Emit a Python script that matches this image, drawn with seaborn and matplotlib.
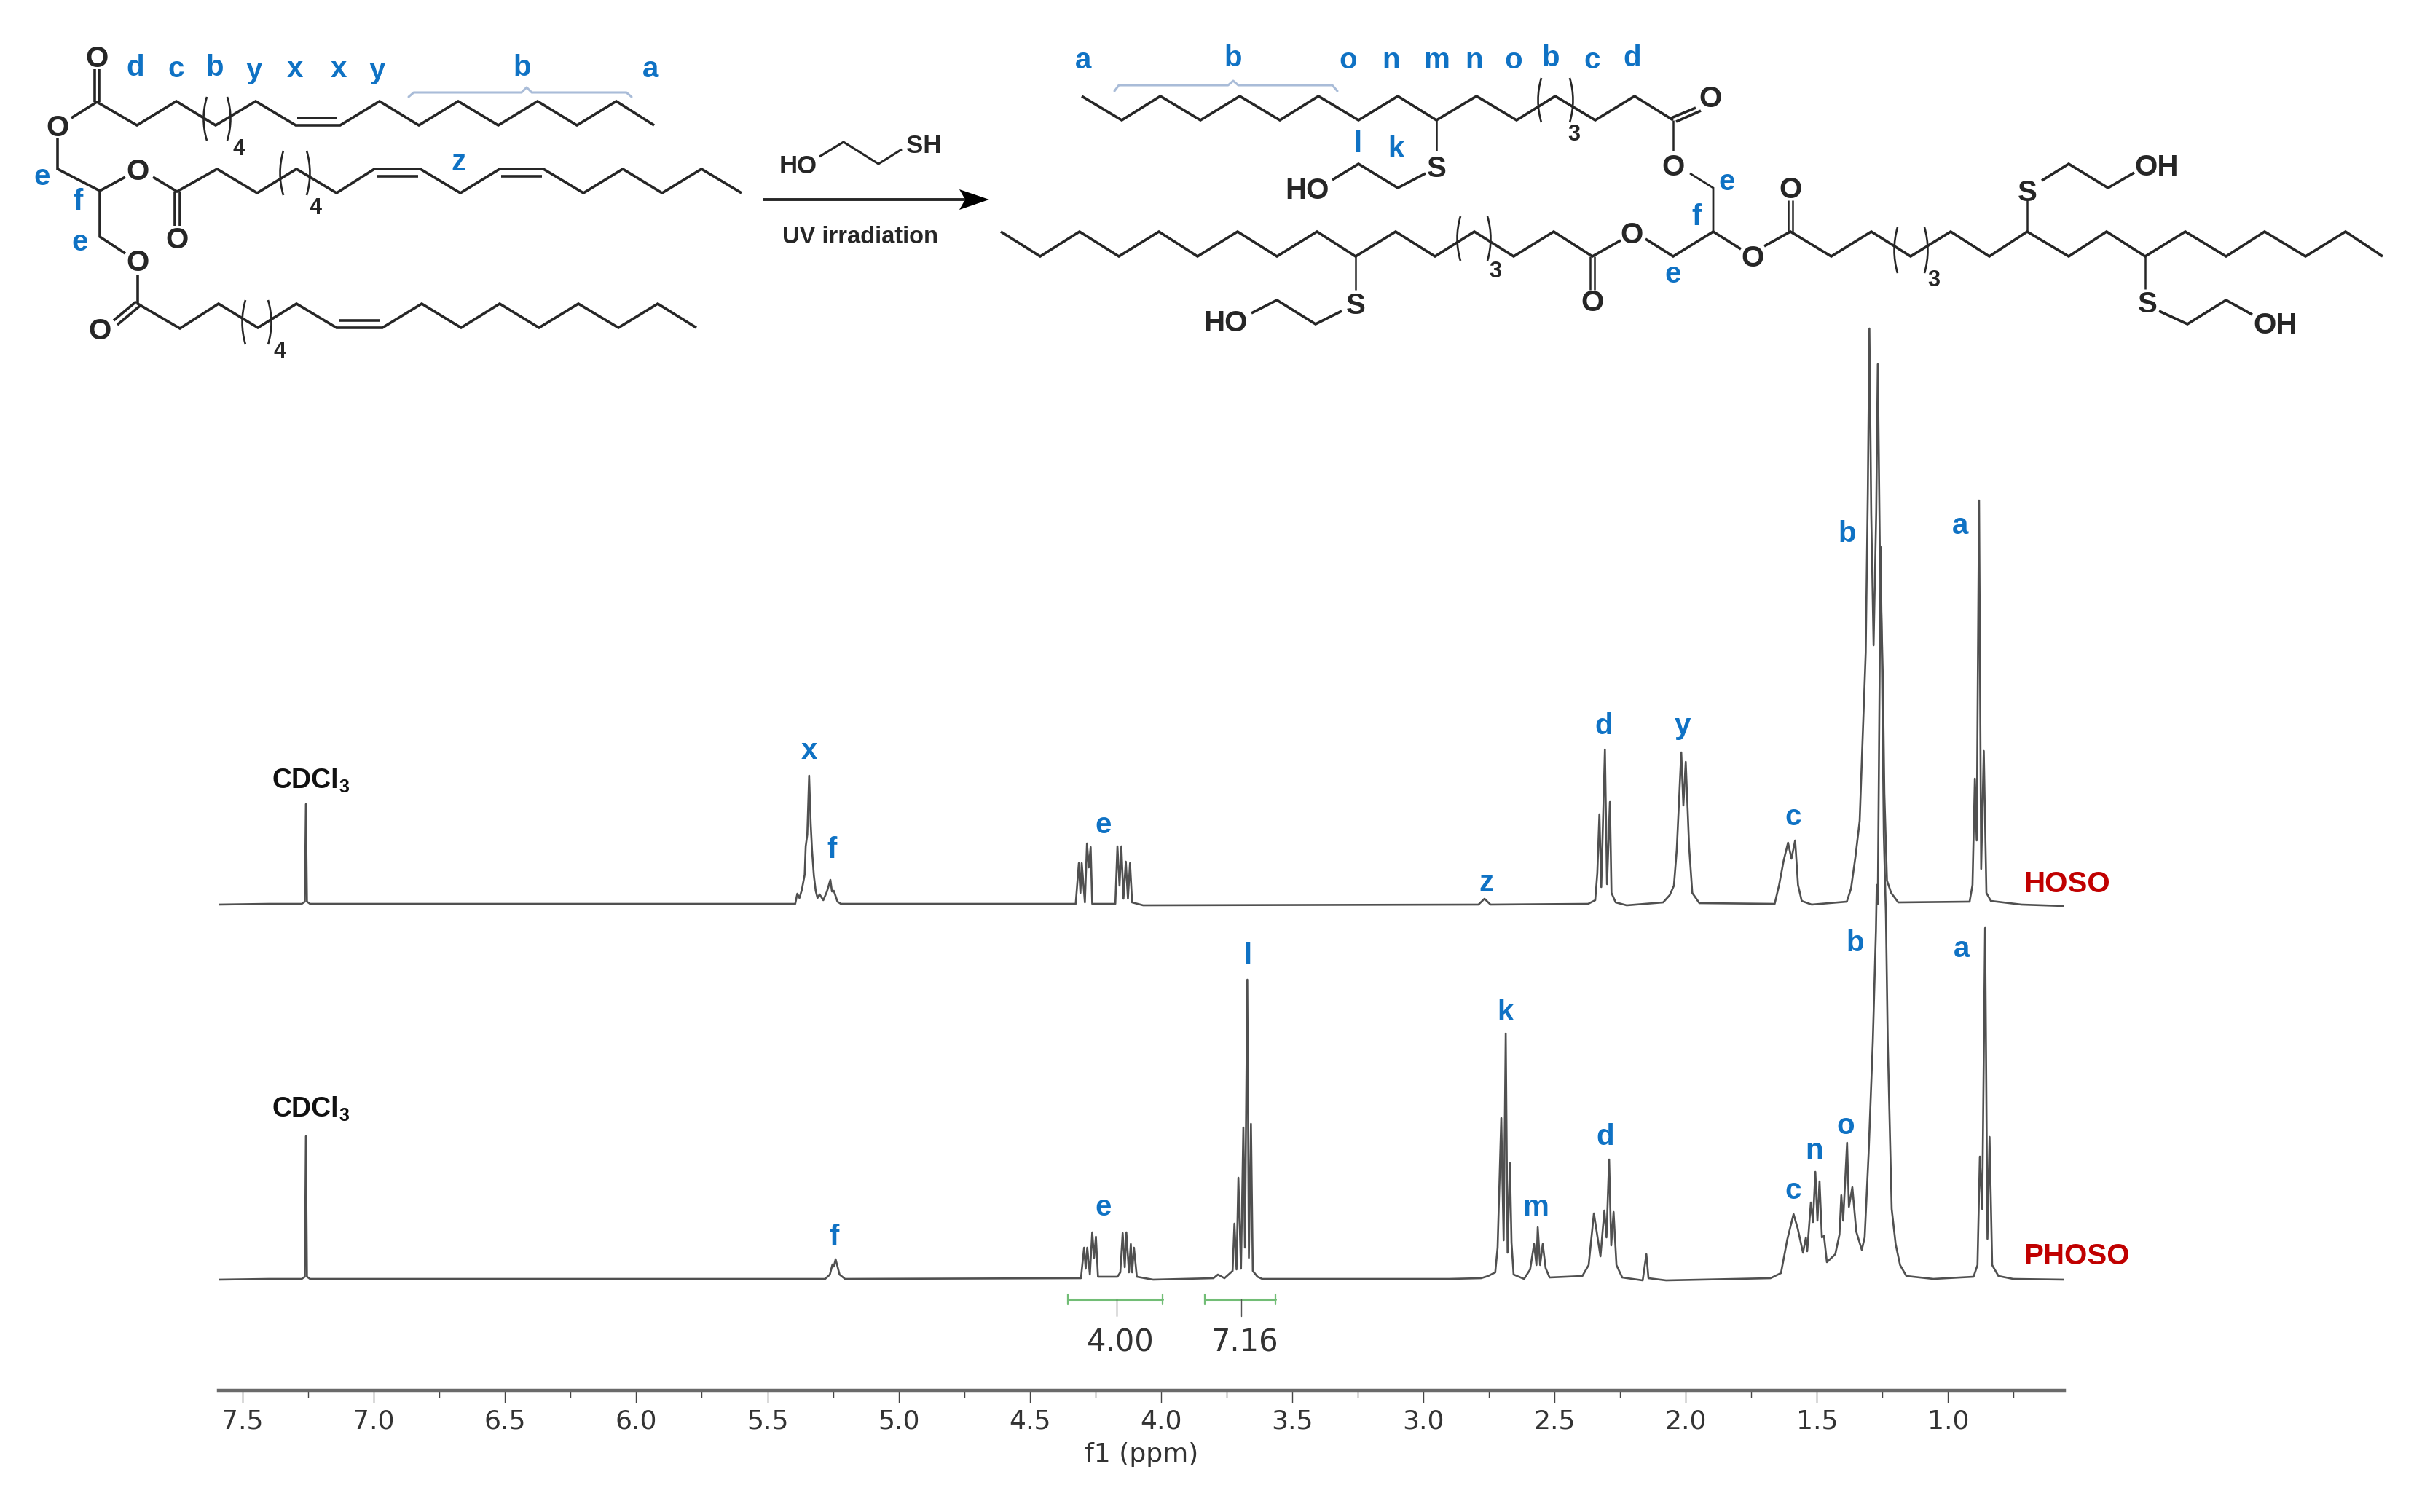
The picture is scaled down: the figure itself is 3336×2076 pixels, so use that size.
import pandas as pd
import matplotlib
matplotlib.use('Agg')
import matplotlib.pyplot as plt
import seaborn as sns
from matplotlib.path import Path
from matplotlib.patches import PathPatch, Polygon

# 1H NMR peak outlines: shift in ppm, height above baseline
cdcl3_ppm = [7.592, 7.40, 7.275, 7.263, 7.259, 7.255, 7.243, 5.60]
hoso_cdcl3_h = [-1, 0, 0, 3, 137, 3, 0, 0]
phoso_cdcl3_h = [-1, 0, 0, 3, 196, 3, 0, 0]

hoso_x_ppm = [5.394, 5.386, 5.378, 5.369, 5.358, 5.354, 5.348, 5.341, 5.335, 5.330, 5.323, 5.316, 5.309,
              5.301, 5.287, 5.273, 5.260, 5.254, 5.247, 5.233, 5.220]
hoso_x_h = [0, 14, 8, 19, 40, 79, 95, 176, 110, 74, 39, 18, 8, 13, 5, 17, 33, 17, 18, 3, 0]
hoso_e_ppm = [4.325, 4.313, 4.307, 4.302, 4.290, 4.282, 4.275, 4.268, 4.262, 4.174, 4.166, 4.158,
              4.151, 4.143, 4.134, 4.126, 4.118, 4.110, 4.068]
hoso_e_h = [0, 56, 15, 56, 2, 83, 50, 78, 0, 0, 79, 25, 79, 7, 58, 7, 56, 2, -2]
hoso_z_ppm = [2.790, 2.767, 2.744]
hoso_z_h = [-1, 7, -1]
hoso_d_ppm = [2.372, 2.345, 2.337, 2.329, 2.322, 2.308, 2.300, 2.289, 2.283, 2.267, 2.225]
hoso_d_h = [0, 5, 42, 123, 23, 212, 27, 140, 15, 2, -2]
hoso_y_ppm = [2.086, 2.061, 2.045, 2.034, 2.017, 2.009, 2.000, 1.987, 1.975, 1.948]
hoso_y_h = [2, 12, 25, 75, 208, 135, 195, 78, 15, 1]
hoso_c_ppm = [1.661, 1.644, 1.627, 1.610, 1.597, 1.583, 1.572, 1.558, 1.520, 1.386]
hoso_c_h = [0, 26, 59, 84, 62, 87, 26, 4, -1, 3]
hoso_b_ppm = [1.370, 1.353, 1.337, 1.325, 1.314, 1.306, 1.300, 1.293, 1.284, 1.274, 1.268, 1.260,
              1.249, 1.243, 1.233, 1.217, 1.190]
hoso_b_h = [21, 65, 114, 235, 345, 564, 790, 536, 355, 536, 741, 480, 317, 152, 32, 15, 2]
hoso_a_ppm = [0.918, 0.907, 0.898, 0.891, 0.882, 0.874, 0.864, 0.854, 0.837, 0.720, 0.557]
hoso_a_h = [3, 26, 172, 87, 554, 48, 210, 15, 4, -1, -3]

phoso_f_ppm = [5.280, 5.262, 5.252, 5.247, 5.240, 5.225, 5.204]
phoso_f_h = [0, 6, 20, 17, 27, 6, 0]
phoso_e_ppm = [4.305, 4.293, 4.287, 4.281, 4.271, 4.262, 4.255, 4.248, 4.240, 4.166, 4.155, 4.146,
               4.138, 4.132, 4.122, 4.115, 4.110, 4.103, 4.092, 4.030]
phoso_e_h = [1, 43, 14, 43, 6, 64, 29, 58, 3, 3, 9, 63, 16, 64, 9, 48, 9, 43, 3, -1]
phoso_l_ppm = [3.800, 3.783, 3.758, 3.727, 3.720, 3.712, 3.705, 3.695, 3.686, 3.680, 3.671, 3.665,
               3.657, 3.650, 3.632, 3.614]
phoso_l_h = [1, 6, 1, 11, 76, 13, 139, 14, 208, 43, 411, 29, 213, 11, 3, 0]
phoso_k_ppm = [2.902, 2.780, 2.753, 2.726, 2.717, 2.703, 2.694, 2.686, 2.679, 2.670, 2.664, 2.656, 2.616]
phoso_k_h = [0, 1, 4, 9, 43, 221, 53, 337, 36, 159, 50, 6, 0]
phoso_m_ppm = [2.593, 2.578, 2.569, 2.564, 2.555, 2.545, 2.534, 2.519]
phoso_m_h = [13, 48, 19, 71, 19, 48, 15, 2]
phoso_d_ppm = [2.394, 2.370, 2.350, 2.325, 2.310, 2.302, 2.292, 2.284, 2.275, 2.264, 2.242, 2.164,
               2.150, 2.142, 2.075]
phoso_d_h = [4, 19, 90, 31, 94, 57, 164, 46, 92, 19, 2, -2, 34, 1, -2]
phoso_c_ppm = [1.677, 1.637, 1.613, 1.589, 1.573, 1.553, 1.542, 1.537, 1.523, 1.515, 1.506, 1.498,
               1.490, 1.481, 1.473, 1.462, 1.430, 1.414, 1.407, 1.400, 1.385, 1.378, 1.365, 1.350, 1.329]
phoso_c_h = [1, 8, 54, 89, 69, 36, 57, 38, 105, 78, 147, 80, 134, 57, 59, 23, 34, 61, 115, 80, 187, 99,
             126, 65, 40]
phoso_b_ppm = [1.318, 1.303, 1.287, 1.275, 1.272, 1.268, 1.257, 1.245, 1.237, 1.230, 1.215, 1.200, 1.183,
               1.159, 1.056]
phoso_b_h = [57, 172, 325, 478, 541, 515, 1005, 610, 500, 325, 96, 48, 19, 4, 0]
phoso_a_ppm = [0.903, 0.888, 0.879, 0.870, 0.859, 0.850, 0.842, 0.832, 0.808, 0.752, 0.557]
phoso_a_h = [3, 19, 168, 96, 482, 55, 195, 19, 4, 0, -1]

integral_lo = [4.355, 3.833]
integral_hi = [3.994, 3.563]
integral_mid = [4.17, 3.695]
integral_values = ['4.00', '7.16']
ppm_ticks = [7.5, 7.0, 6.5, 6.0, 5.5, 5.0, 4.5, 4.0, 3.5, 3.0, 2.5, 2.0, 1.5, 1.0]
ppm_minor = [7.25, 6.75, 6.25, 5.75, 5.25, 4.75, 4.25, 3.75, 3.25, 2.75, 2.25, 1.75, 1.25, 0.75]

hoso_ppm = (cdcl3_ppm + hoso_x_ppm + hoso_e_ppm + hoso_z_ppm + hoso_d_ppm + hoso_y_ppm + hoso_c_ppm
            + hoso_b_ppm + hoso_a_ppm)
hoso_h = (hoso_cdcl3_h + hoso_x_h + hoso_e_h + hoso_z_h + hoso_d_h + hoso_y_h + hoso_c_h + hoso_b_h
          + hoso_a_h)
phoso_ppm = (cdcl3_ppm + phoso_f_ppm + phoso_e_ppm + phoso_l_ppm + phoso_k_ppm + phoso_m_ppm + phoso_d_ppm
             + phoso_c_ppm + phoso_b_ppm + phoso_a_ppm)
phoso_h = (phoso_cdcl3_h + phoso_f_h + phoso_e_h + phoso_l_h + phoso_k_h + phoso_m_h + phoso_d_h + phoso_c_h
           + phoso_b_h + phoso_a_h)

BLUE = '#0f72c4'
RED = '#c00000'
GREEN = '#72bd76'
DARK = '#262626'
TRACE = '#505050'
hoso_shift = 515

sns.set_theme(style='white')
plt.rcParams['font.family'] = ['DejaVu Sans']

df = pd.concat([
    pd.DataFrame({'sample': 'HOSO', 'ppm': hoso_ppm, 'y': [h + hoso_shift for h in hoso_h]}),
    pd.DataFrame({'sample': 'PHOSO', 'ppm': phoso_ppm, 'y': phoso_h}),
])

W, H = 3336, 2076
fig = plt.figure(figsize=(W / 100, H / 100), dpi=100, facecolor='white')

# spectra
ax = fig.add_axes([300 / W, 1 - 1909 / H, (2834 - 300) / W, (1909 - 440) / H], facecolor='none')
sns.lineplot(data=df, x='ppm', y='y', units='sample', estimator=None, sort=False,
             color=TRACE, lw=1.9, ax=ax, legend=False)
ax.set_xlim(7.592, 0.557)
ax.set_ylim(-153, 1316)
for s in ['top', 'left', 'right']:
    ax.spines[s].set_visible(False)
ax.spines['bottom'].set_linewidth(3.2)
ax.spines['bottom'].set_color('#6a6a6a')
ax.set_yticks([])
ax.set_xticks(ppm_ticks)
ax.set_xticks(ppm_minor, minor=True)
ax.set_xticklabels([f'{t:.1f}' for t in ppm_ticks])
ax.tick_params(axis='x', which='major', bottom=True, length=12, width=1, color='#444444',
               labelsize=26, labelcolor='#333333', pad=6)
ax.tick_params(axis='x', which='minor', bottom=True, length=7, width=1, color='#444444')
ax.set_xlabel('f1 (ppm)', fontsize=26, color='#333333', labelpad=9)
ax.set_ylabel('')
for lo, hi, mid, val in zip(integral_lo, integral_hi, integral_mid, integral_values):
    ax.plot([lo, hi], [-28, -28], color=GREEN, lw=2.2)
    ax.plot([lo, lo], [-35, -21], color=GREEN, lw=1.6)
    ax.plot([hi, hi], [-35, -21], color=GREEN, lw=1.6)
    ax.plot([mid, mid], [-28, -51], color='#555555', lw=1)
    ax.text(mid - 0.015, -88, val, fontsize=30, color='#333333', ha='center', va='center')

# scheme and labels, in picture pixels
ov = fig.add_axes([0, 0, 1, 1], facecolor='none')
ov.set_xlim(0, W)
ov.set_ylim(H, 0)
ov.axis('off')


def bond(xs, ys, lw=2.6):
    ov.plot(xs, ys, color=DARK, lw=lw, solid_joinstyle='miter', solid_capstyle='butt')


def paren(x, y0, y1, bow):
    mid = (y0 + y1) / 2
    path = Path([(x, y0), (x + bow, mid), (x, y1)], [Path.MOVETO, Path.CURVE3, Path.CURVE3])
    ov.add_patch(PathPatch(path, fill=False, ec=DARK, lw=1.9))


def label(x, y, s, size=26, color=DARK, weight='bold', ha='center'):
    ov.text(x, y + 3, s, fontsize=size, color=color, fontweight=weight, ha=ha, va='center',
            family='Liberation Sans')


# left triglyceride
bond([79, 79, 137, 137, 172], [190, 232, 262, 325, 348])
bond([137, 172], [262, 243])
bond([98, 133, 188, 242, 296, 351, 406, 467, 521, 575, 629, 684, 738, 792, 846, 898],
     [162, 140, 172, 139, 172, 139, 172, 172, 139, 172, 139, 172, 139, 172, 139, 172])
bond([130, 130], [140, 95])
bond([136, 136], [140, 95])
bond([408, 463], [162, 162])
bond([210, 243, 298, 353, 407, 462, 514, 577, 632, 686, 746, 801, 855, 909, 963, 1018],
     [243, 263, 232, 265, 232, 265, 232, 232, 265, 232, 232, 265, 232, 265, 232, 265])
bond([240, 240], [263, 310])
bond([247, 247], [263, 310])
bond([518, 574], [242, 242])
bond([688, 744], [242, 242])
bond([189, 189, 247, 300, 354, 407, 462, 525, 579, 633, 686, 740, 794, 849, 903, 956],
     [377, 417, 451, 417, 450, 417, 450, 450, 417, 450, 417, 450, 417, 450, 417, 450])
bond([187, 156], [414, 440])
bond([192, 161], [420, 446])
bond([465, 521], [440, 440])
for x, y in [(133, 78), (79, 173), (189, 233), (243, 327), (189, 358), (137, 452)]:
    label(x, y, 'O', size=29)
for x0, x1, y0, y1, sx, sy in [(284, 312, 133, 193, 328, 202), (389, 421, 207, 268, 433, 283),
                                (337, 368, 412, 473, 384, 480)]:
    paren(x0, y0, y1, -9)
    paren(x1, y0, y1, 9)
    label(sx, sy, '4', size=22)

# reagent and arrow
bond([1125, 1158, 1206, 1238], [215, 195, 225, 205], lw=2.2)
label(1096, 225, 'HO', size=25)
label(1268, 197, 'SH', size=25)
bond([1047, 1325], [274, 274], lw=2.8)
ov.add_patch(Polygon([(1358, 274), (1317, 260), (1325, 274), (1317, 288)], color='black', lw=0))
label(1181, 323, 'UV irradiation', size=23.5)

# right product
bond([1485, 1540, 1593, 1648, 1702, 1757, 1810, 1865, 1919, 1972, 2027, 2082, 2135, 2190, 2244, 2297],
     [132, 165, 132, 165, 132, 165, 132, 165, 132, 165, 132, 165, 132, 165, 132, 165])
bond([2292, 2328], [163, 148])
bond([2301, 2335], [167, 152])
bond([1972, 1972], [165, 207], lw=1.8)
bond([1957, 1919, 1865, 1829], [238, 258, 225, 247])
bond([2297, 2297], [165, 207], lw=1.8)
bond([2320, 2352, 2352], [238, 258, 318], lw=2)
bond([1374, 1428, 1482, 1536, 1591, 1644, 1699, 1753, 1808, 1861, 1916, 1970, 2024, 2078, 2133, 2186, 2225],
     [318, 352, 318, 352, 318, 352, 318, 352, 318, 352, 318, 352, 318, 352, 318, 352, 330])
bond([2183, 2183], [352, 398], lw=1.8)
bond([2189, 2189], [352, 398], lw=1.8)
bond([2259, 2297, 2352, 2390], [328, 352, 318, 342])
bond([2422, 2458, 2514, 2569, 2623, 2678, 2731, 2783, 2840, 2892, 2945, 3000, 3056, 3109, 3165, 3220, 3271],
     [338, 318, 352, 318, 352, 318, 352, 318, 352, 318, 352, 318, 352, 318, 352, 318, 352])
bond([2455, 2455], [318, 275], lw=1.8)
bond([2461, 2461], [318, 275], lw=1.8)
bond([2783, 2783], [318, 275], lw=1.8)
bond([2803, 2840, 2894, 2930], [248, 225, 258, 237])
bond([2945, 2945], [352, 397], lw=1.8)
bond([2964, 3003, 3056, 3092], [427, 445, 412, 432])
bond([1861, 1861], [352, 398], lw=1.8)
bond([1842, 1806, 1753, 1718], [427, 445, 412, 430])
for x, y, s in [(2348, 133, 'O'), (1972, 229, 'S'), (1795, 259, 'HO'), (2297, 227, 'O'), (2186, 413, 'O'),
                (2240, 320, 'O'), (2406, 352, 'O'), (2458, 258, 'O'), (2783, 262, 'S'), (2961, 227, 'OH'),
                (2948, 415, 'S'), (3124, 444, 'OH'), (1861, 417, 'S'), (1683, 441, 'HO')]:
    label(x, y, s, size=29)
for x0, x1, y0, y1, sx, sy in [(2116, 2155, 107, 168, 2161, 182), (2005, 2042, 297, 358, 2053, 370),
                                (2605, 2642, 312, 375, 2655, 382)]:
    paren(x0, y0, y1, -9)
    paren(x1, y0, y1, 9)
    label(sx, sy, '3', size=22)

# braces
BRACE = '#a9bcd8'
ov.plot([561, 568, 716, 723, 730, 860, 867], [133, 127, 127, 120, 127, 127, 133], color=BRACE, lw=2.2)
ov.plot([1530, 1536, 1686, 1693, 1700, 1829, 1836], [125, 117, 117, 111, 117, 117, 125], color=BRACE, lw=2.2)

# peak assignments on the scheme and on the spectra
scheme_labels = [('d', 186, 90), ('c', 242, 92), ('b', 295, 90), ('y', 349, 94), ('x', 405, 92),
                 ('x', 465, 92), ('y', 518, 94), ('b', 717, 90), ('a', 893, 92), ('z', 629, 220),
                 ('e', 58, 240), ('f', 107, 274), ('e', 110, 330), ('a', 1487, 80), ('b', 1693, 77),
                 ('o', 1851, 80), ('n', 1910, 80), ('m', 1972, 80), ('n', 2024, 80), ('o', 2078, 80),
                 ('b', 2129, 77), ('c', 2186, 80), ('d', 2241, 77), ('l', 1864, 195), ('k', 1916, 202),
                 ('e', 2371, 247), ('f', 2329, 295), ('e', 2297, 374)]
peak_labels = [('x', 1111, 1028), ('f', 1142, 1164), ('e', 1515, 1130), ('z', 2040, 1209), ('d', 2202, 994),
               ('y', 2310, 994), ('c', 2462, 1119), ('b', 2536, 730), ('a', 2691, 719), ('f', 1145, 1696),
               ('e', 1515, 1655), ('l', 1713, 1309), ('k', 2066, 1387), ('m', 2108, 1655), ('d', 2204, 1558),
               ('c', 2462, 1632), ('n', 2491, 1577), ('o', 2534, 1543), ('b', 2547, 1292), ('a', 2693, 1300)]
for s, x, y in scheme_labels + peak_labels:
    label(x, y, s, size=29, color=BLUE)

for y in [1069, 1520]:
    label(465, y, 'CDCl', size=27, color='#111111', ha='right')
    label(472, y + 9, '3', size=18, color='#111111')
label(2838, 1211, 'HOSO', size=29, color=RED, weight='bold')
label(2851, 1722, 'PHOSO', size=29, color=RED, weight='bold')

plt.savefig('out.png', dpi=100, facecolor='white')
